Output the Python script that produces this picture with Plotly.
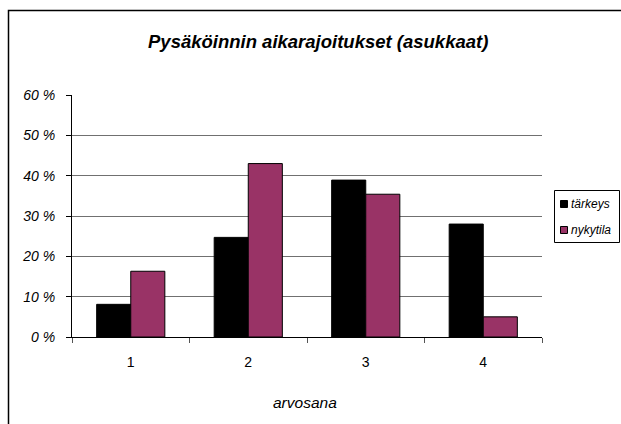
import plotly.graph_objects as go

categories = ["1", "2", "3", "4"]
tarkeys = [8.1, 24.7, 38.9, 28.0]
nykytila = [16.3, 43.0, 35.4, 5.0]
series_names = ["tärkeys", "nykytila"]
series_colors = ["#000000", "#993366"]
y_ticks = [0, 10, 20, 30, 40, 50, 60]
y_tick_labels = ["0 %", "10 %", "20 %", "30 %", "40 %", "50 %", "60 %"]

W, H = 621, 424
L, R, T, B = 72, 79, 95, 87
pw = W - L - R
ph = H - T - B

def px(x):
    return (x - L) / pw

def py(y):
    return (H - B - y) / ph

font = "Liberation Sans, Arial, sans-serif"

fig = go.Figure()
for name, vals, col in zip(series_names, [tarkeys, nykytila], series_colors):
    fig.add_trace(go.Bar(x=categories, y=vals, name=name,
                         marker=dict(color=col, line=dict(color="#000000", width=1))))

shapes = [
    dict(type="rect", xref="paper", yref="paper",
         x0=px(8.5), x1=px(640), y0=py(10.5), y1=py(440),
         line=dict(color="black", width=1.5), layer="below"),
    dict(type="rect", xref="paper", yref="paper",
         x0=px(554.5), x1=px(619.5), y0=py(190.5), y1=py(242.5),
         line=dict(color="black", width=1), fillcolor="white"),
]
annotations = [
    dict(text="<b><i>Pysäköinnin aikarajoitukset (asukkaat)</i></b>",
         xref="paper", yref="paper", x=px(318), y=py(42),
         xanchor="center", yanchor="middle", showarrow=False,
         font=dict(size=18.5, family=font)),
    dict(text="<i>arvosana</i>", xref="paper", yref="paper", x=px(305), y=py(402),
         xanchor="center", yanchor="middle", showarrow=False,
         font=dict(size=15.5, family=font)),
]
row_y = [204, 230]
for name, col, ry in zip(series_names, series_colors, row_y):
    shapes.append(dict(type="rect", xref="paper", yref="paper",
                       x0=px(560.5), x1=px(567.5), y0=py(ry - 3.5), y1=py(ry + 3.5),
                       line=dict(color="black", width=1), fillcolor=col))
    annotations.append(dict(text="<i>%s</i>" % name, xref="paper", yref="paper",
                            x=px(569), y=py(ry), xanchor="left", yanchor="middle",
                            showarrow=False, font=dict(size=12, family=font)))

fig.update_layout(
    width=W, height=H,
    margin=dict(l=L, r=R, t=T, b=B, autoexpand=False),
    paper_bgcolor="white", plot_bgcolor="white",
    barmode="group", bargap=0.42, bargroupgap=0,
    font=dict(family=font, color="black"),
    showlegend=False,
    xaxis=dict(type="category", showline=True, linecolor="black", linewidth=1,
               ticks="outside", tickson="boundaries", ticklen=5, tickcolor="#555",
               tickfont=dict(size=14), showgrid=False, ticklabelstandoff=12),
    yaxis=dict(range=[0, 60], tickvals=y_ticks, ticktext=["<i>%s</i>" % t for t in y_tick_labels],
               showline=True, linecolor="black", linewidth=1,
               ticks="outside", ticklen=5, tickcolor="black",
               showgrid=True, gridcolor="#707070", gridwidth=1,
               tickfont=dict(size=14), zeroline=False, ticklabelstandoff=8),
    annotations=annotations,
    shapes=shapes,
)

fig.write_html("out.html", config={"displayModeBar": False},
               post_script="document.body.style.margin='0';document.body.style.overflow='hidden';")
